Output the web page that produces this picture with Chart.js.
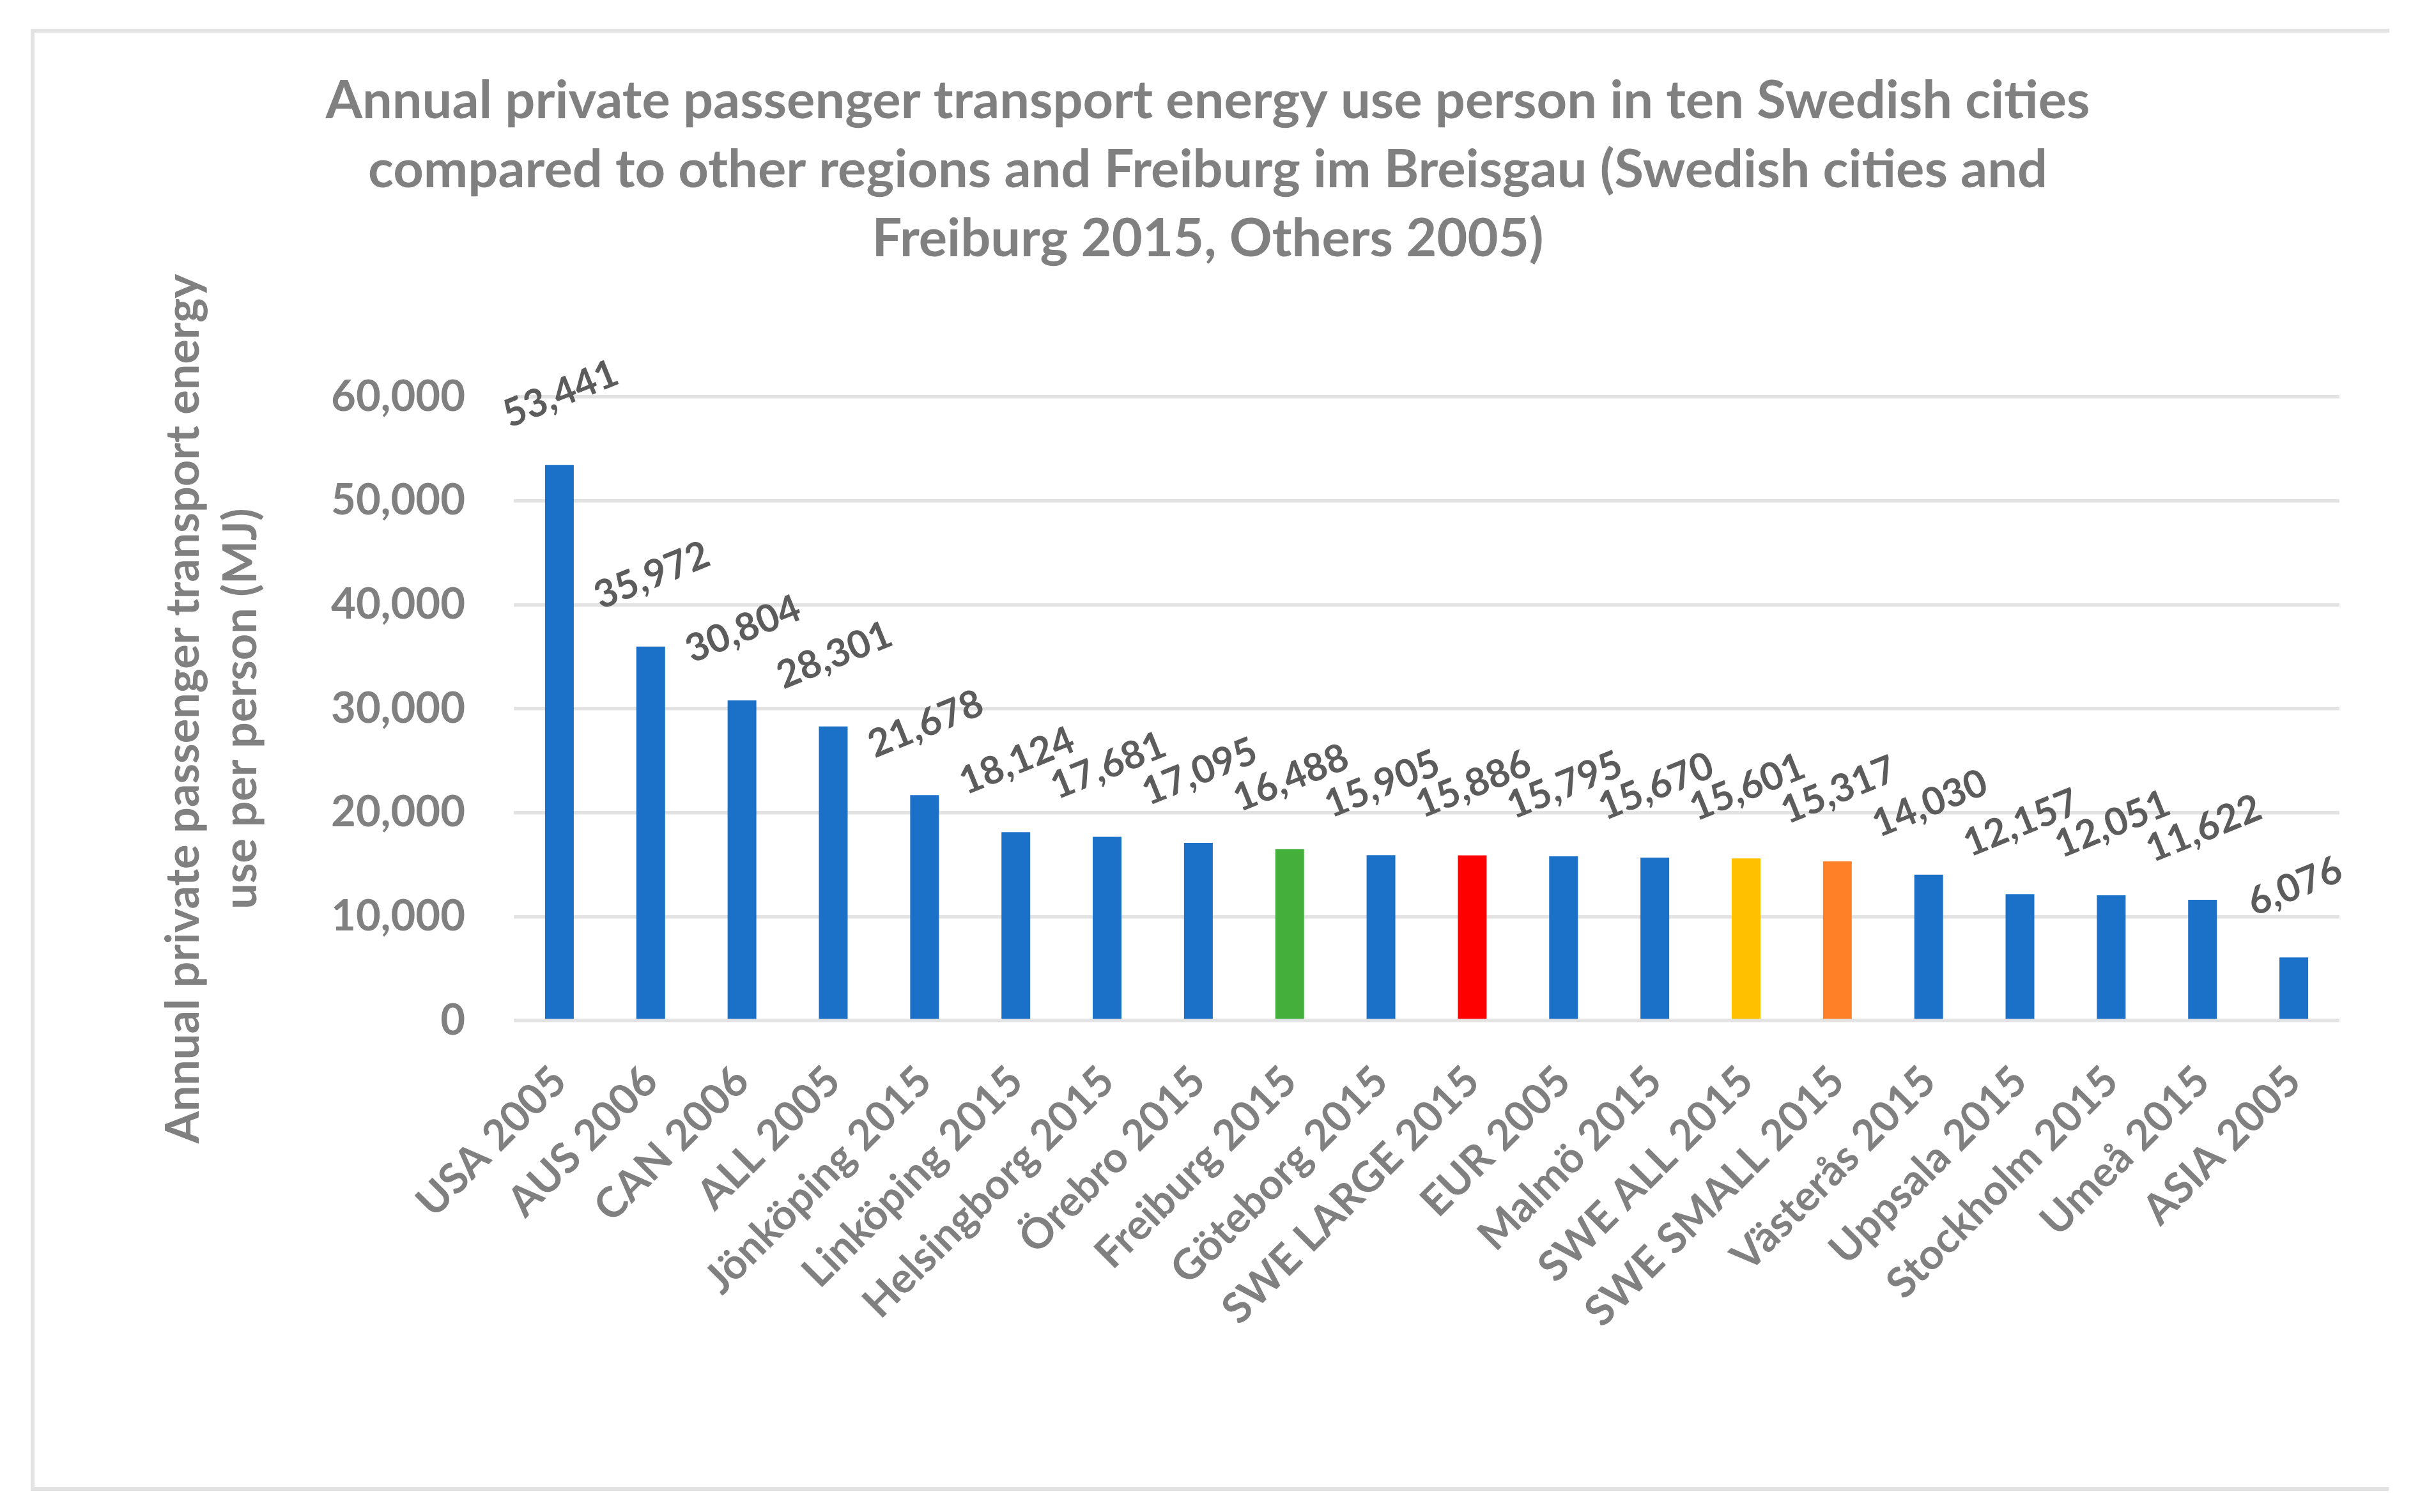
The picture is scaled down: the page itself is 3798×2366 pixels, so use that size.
<!DOCTYPE html>
<html>
<head>
<meta charset="utf-8">
<script src="https://cdn.jsdelivr.net/npm/chart.js@4.4.1/dist/chart.umd.min.js"></script>
<style>
  html, body { margin: 0; padding: 0; background: #ffffff; overflow: hidden; }
  #wrap { position: relative; width: 3798px; height: 2366px; }
  #frame { position: absolute; left: 48px; top: 45px; width: 3685px; height: 2276px;
           border-top: 6px solid #e3e3e3; border-left: 6px solid #e3e3e3; border-bottom: 6px solid #e3e3e3; box-sizing: content-box; }
  canvas { position: absolute; left: 0; top: 0; }
</style>
</head>
<body>
<div id="wrap">
  <div id="frame"></div>
  <canvas id="c" width="3798" height="2366" style="width:3798px;height:2366px"></canvas>
</div>
<script>
const titleLines = [
  'Annual private passenger transport energy use person in ten Swedish cities',
  'compared to other regions and Freiburg im Breisgau (Swedish cities and',
  'Freiburg 2015, Others 2005)'
];
const yTitleLines = ['Annual private passenger transport energy', 'use per person (MJ)'];
const categories = [
  'USA 2005', 'AUS 2006', 'CAN 2006', 'ALL 2005', 'Jönköping 2015', 'Linköping 2015',
  'Helsingborg 2015', 'Örebro 2015', 'Freiburg 2015', 'Göteborg 2015', 'SWE LARGE 2015',
  'EUR 2005', 'Malmö 2015', 'SWE ALL 2015', 'SWE SMALL 2015', 'Västerås 2015',
  'Uppsala 2015', 'Stockholm 2015', 'Umeå 2015', 'ASIA 2005'
];
const values = [
  53441, 35972, 30804, 28301, 21678, 18124, 17681, 17095, 16488, 15905, 15886,
  15795, 15670, 15601, 15317, 14030, 12157, 12051, 11622, 6076
];
const BLUE = '#1b71c7';
const barColors = [
  BLUE, BLUE, BLUE, BLUE, BLUE, BLUE, BLUE, BLUE, '#45af3b', BLUE, '#ff0000',
  BLUE, BLUE, '#ffc000', '#ff8027', BLUE, BLUE, BLUE, BLUE, BLUE
];
const yMin = 0, yMax = 60000, yStep = 10000;

const FONT = 'Lato';
const fmt = v => Number(v).toLocaleString('en-US');

const dataLabelPlugin = {
  id: 'dataLabels',
  afterDatasetsDraw(chart) {
    const ctx = chart.ctx;
    const meta = chart.getDatasetMeta(0);
    ctx.save();
    ctx.font = 'bold 60px ' + FONT;
    ctx.fillStyle = '#5c5c5c';
    ctx.textAlign = 'center';
    ctx.textBaseline = 'middle';
    meta.data.forEach((bar, i) => {
      const v = chart.data.datasets[0].data[i];
      ctx.save();
      ctx.translate(bar.x + 2, bar.y - 111);
      ctx.rotate(-22 * Math.PI / 180);
      ctx.fillText(fmt(v), 0, 0);
      ctx.restore();
    });
    ctx.restore();
  }
};

Chart.defaults.font.family = FONT;

new Chart(document.getElementById('c'), {
  type: 'bar',
  data: {
    labels: categories,
    datasets: [{
      data: values,
      backgroundColor: barColors,
      borderWidth: 0,
      barPercentage: 0.315,
      categoryPercentage: 1.0
    }]
  },
  options: {
    responsive: false,
    animation: false,
    devicePixelRatio: 1,
    layout: { padding: { top: 104, left: 48, right: 66, bottom: 0 } },
    plugins: {
      legend: { display: false },
      tooltip: { enabled: false },
      title: {
        display: true,
        text: titleLines,
        color: '#808080',
        font: { family: FONT, size: 83, weight: 'bold', lineHeight: '108px' },
        padding: { top: 0, bottom: 193 }
      }
    },
    scales: {
      x: {
        grid: { display: false, drawTicks: false },
        border: { display: false },
        ticks: {
          color: '#808080',
          font: { family: FONT, size: 66, weight: 'bold' },
          minRotation: 45,
          maxRotation: 45,
          autoSkip: false,
          padding: 56
        },
        afterFit(s) { s.height = 769; }
      },
      y: {
        min: yMin,
        max: yMax,
        grid: { color: '#e3e3e3', lineWidth: 5.5, drawTicks: false },
        border: { display: false },
        ticks: {
          stepSize: yStep,
          color: '#808080',
          font: { family: FONT, size: 67, weight: 'bold' },
          padding: 76,
          callback: v => fmt(v)
        },
        title: {
          display: true,
          text: yTitleLines,
          color: '#808080',
          font: { family: FONT, size: 72, weight: 'bold', lineHeight: '90px' },
          padding: { top: 195, bottom: 0 }
        },
        afterFit(s) { s.width = 756; }
      },
      y2: {
        position: 'right',
        display: true,
        grid: { display: false, drawTicks: false },
        border: { display: false },
        ticks: { display: false },
        afterFit(s) { s.width = 71; }
      }
    }
  },
  plugins: [dataLabelPlugin]
});
</script>
</body>
</html>
